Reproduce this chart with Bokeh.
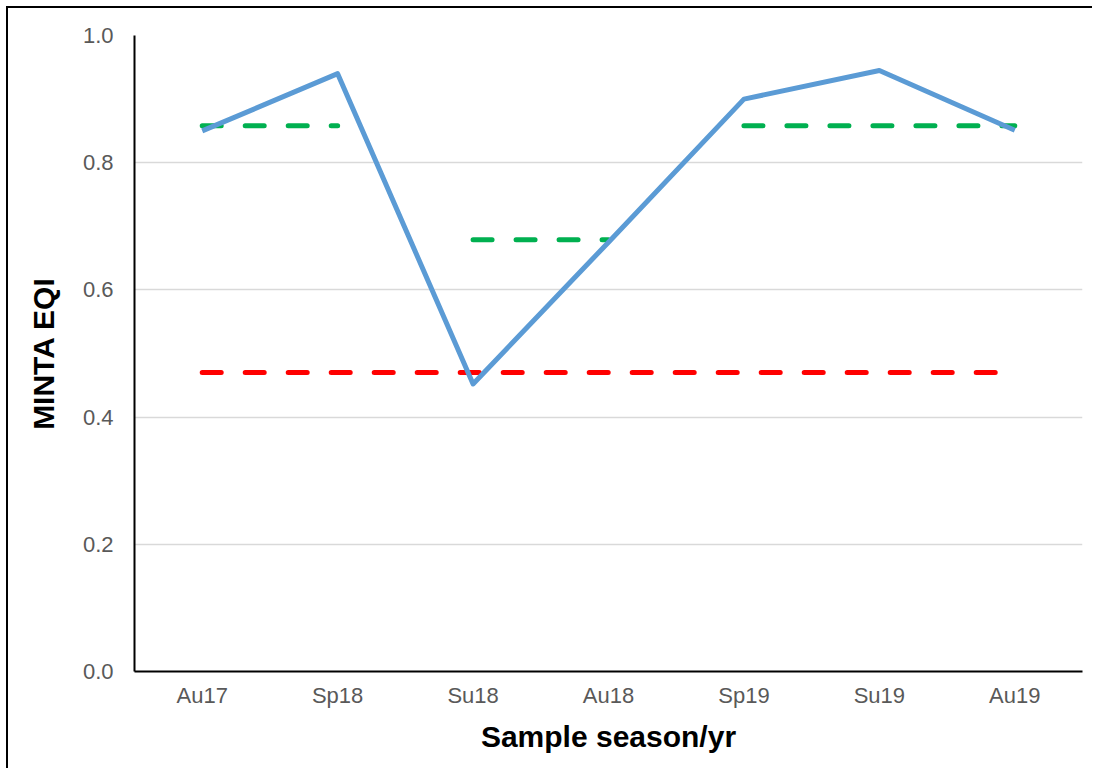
from bokeh.plotting import figure
from bokeh.embed import file_html
from bokeh.resources import INLINE
from bokeh.models import SingleIntervalTicker, NumeralTickFormatter, Range1d

seasons = ["Au17", "Sp18", "Su18", "Au18", "Sp19", "Su19", "Au19"]
eqi = [0.85, 0.94, 0.452, 0.675, 0.90, 0.945, 0.851]

# green reference segments (start season, end season, value)
green_start = ["Au17", "Su18", "Sp19"]
green_end = ["Sp18", "Au18", "Au19"]
green_val = [0.858, 0.679, 0.858]

# red threshold
red_start = "Au17"
red_end = "Au19"
red_val = 0.47

FONT = "Liberation Sans"

p = figure(x_range=seasons, y_range=Range1d(0, 1.0),
           width=1084, height=760,
           min_border_left=126, min_border_top=27,
           min_border_right=10, min_border_bottom=97,
           frame_width=948, frame_height=636,
           output_backend="svg", toolbar_location=None)
p.styles = {"margin-left": "6px", "margin-top": "6px",
            "border-left": "2px solid black", "border-top": "2px solid black"}
p.x_range.range_padding = 0.0

p.outline_line_color = None
p.xgrid.grid_line_color = None
p.ygrid.grid_line_color = "#D9D9D9"
p.ygrid.grid_line_width = 1.5

p.yaxis.ticker = SingleIntervalTicker(interval=0.2)
p.yaxis.formatter = NumeralTickFormatter(format="0.0")

for ax in (p.xaxis[0], p.yaxis[0]):
    ax.axis_line_color = "black"
    ax.axis_line_width = 2
    ax.major_tick_line_color = None
    ax.minor_tick_line_color = None
    ax.major_tick_out = 0
    ax.major_tick_in = 0
    ax.major_label_text_font = FONT
    ax.major_label_text_font_size = "22px"
    ax.major_label_text_color = "#595959"
    ax.axis_label_text_font = FONT
    ax.axis_label_text_font_style = "bold"
    ax.axis_label_text_color = "black"

p.xaxis.axis_label_text_font_size = "30px"
p.yaxis.axis_label_text_font_size = "30px"
p.yaxis.major_label_standoff = 17
p.xaxis.major_label_standoff = 11
p.xaxis.axis_label = "Sample season/yr"
p.yaxis.axis_label = "MINTA EQI"
p.xaxis.axis_label_standoff = 9
p.yaxis.axis_label_standoff = 20

p.segment(x0=[red_start], y0=[red_val], x1=[red_end], y1=[red_val],
          line_color="#FF0000", line_width=5, line_dash="19 24", line_cap="round")
p.segment(x0=green_start, y0=green_val, x1=green_end, y1=green_val,
          line_color="#00B050", line_width=5, line_dash="19 24", line_cap="round")
p.line(x=seasons, y=eqi, line_color="#5B9BD5", line_width=5, line_join="round")

open("out.html", "w").write(file_html(p, INLINE))
